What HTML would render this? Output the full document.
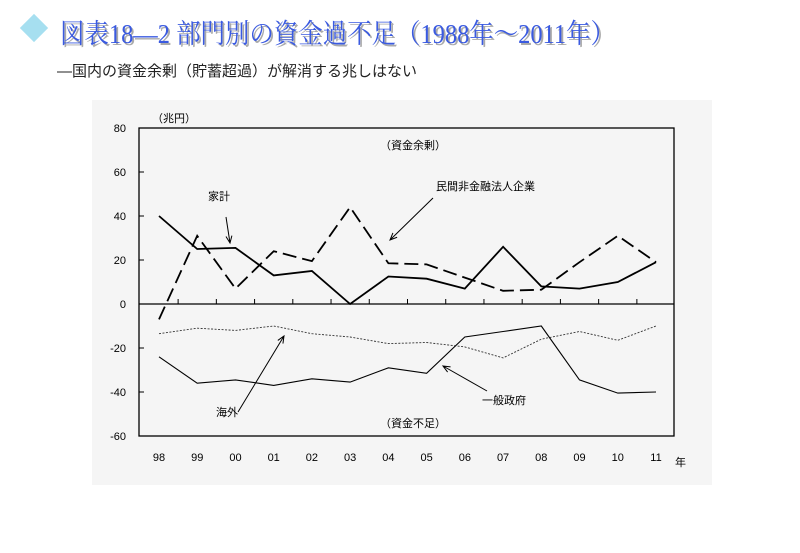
<!DOCTYPE html>
<html><head><meta charset="utf-8"><style>
body{margin:0;width:800px;height:553px;background:#fff;overflow:hidden;font-family:"Liberation Sans","Noto Sans CJK JP",sans-serif}
#title{position:absolute;left:60px;top:12px;font-family:"Liberation Serif","Noto Serif CJK SC",serif;font-size:27px;color:#3a5ae0;text-shadow:2px 2px 0 #aaa;white-space:nowrap;transform:scaleX(0.905);transform-origin:0 0}
#dia{position:absolute;left:24px;top:18px;width:20px;height:20px;background:#a6dff0;transform:rotate(45deg)}
#sub{position:absolute;left:57px;top:60px;font-size:15px;color:#222;white-space:nowrap}
</style></head><body>
<div id="dia"></div>
<div id="title">図表18—2 部門別の資金過不足（1988年～2011年）</div>
<div id="sub">—国内の資金余剰（貯蓄超過）が解消する兆しはない</div>
<svg id="chart" width="800" height="553" style="position:absolute;left:0;top:0"></svg>
<script>
const categories=["98","99","00","01","02","03","04","05","06","07","08","09","10","11"];
const household=[40,25,25.5,13,15,0,12.5,11.5,7,26,8,7,10,19];
const corporate=[-7,31,7,24,19.5,44,18.5,18,12,6,6.5,19,31,19];
const overseas=[-13.5,-11,-12,-10,-13.5,-15,-18,-17.5,-19.5,-24.5,-16,-12.5,-16.5,-10];
const government=[-24,-36,-34.5,-37,-34,-35.5,-29,-31.5,-15,-12.5,-10,-34.5,-40.5,-40];
const yTicks=[80,60,40,20,0,-20,-40,-60];
const NS="http://www.w3.org/2000/svg";
const svg=document.getElementById('chart');
const L=139,R=674,T=128,B=436;
const y=v=>304-(v*2.2);
const x=i=>159+i*38.23;
function mk(tag,a,txt){const e=document.createElementNS(NS,tag);for(const k in a)e.setAttribute(k,a[k]);if(txt!=null)e.textContent=txt;svg.appendChild(e);return e;}
let e=mk('rect',{x:92,y:100,width:620,height:385,fill:'#f5f5f5'});


e=mk('rect',{x:L,y:T,width:R-L,height:B-T,fill:'none',stroke:'#000','stroke-width':1.3});


e=mk('line',{x1:L,x2:R,y1:y(0),y2:y(0),stroke:'#000','stroke-width':1.3});


yTicks.forEach(v=>{
 e=mk('line',{x1:L,x2:L+5,y1:y(v),y2:y(v),stroke:'#000'});
 
 
 e=mk('text',{x:L-13,y:y(v)+4,'text-anchor':'end','font-size':11,fill:'#000'},String(v));
 
 
});
categories.forEach((c,i)=>{
 if(i>0){const xx=(x(i-1)+x(i))/2;e=mk('line',{x1:xx,x2:xx,y1:y(0),y2:y(0)-5,stroke:'#000'});
 
 }
 e=mk('text',{x:x(i),y:461,'text-anchor':'middle','font-size':11},c);
 
 
});
function line(d,name,st){const p=d.map((v,i)=>(i?'L':'M')+x(i).toFixed(1)+' '+y(v).toFixed(1)).join(' ');
 const el=mk('path',Object.assign({d:p,fill:'none',stroke:'#000'},st));
 
 }
line(household,'household-line',{'stroke-width':1.8});
line(corporate,'corporate-line',{'stroke-width':1.8,'stroke-dasharray':'14 6'});
line(overseas,'overseas-line',{'stroke-width':0.9,'stroke-dasharray':'2 1.5',stroke:'#333'});
line(government,'government-line',{'stroke-width':1.1});
const labels=[["（兆円）",152,122,'y-axis-unit'],["（資金余剰）",380,149,'surplus-label'],["（資金不足）",380,427,'deficit-label'],["家計",208,200,'household-label'],["民間非金融法人企業",436,190,'corporate-label'],["海外",216,416,'overseas-label'],["一般政府",482,404,'government-label'],["年",675,466,'x-axis-unit']];
labels.forEach(l=>{e=mk('text',{x:l[1],y:l[2],'font-size':11},l[0]);
 
 });
const arrows=[[226,217,230,243],[433,198,390,240],[238,412,284,336],[487,391,443,366]];
arrows.forEach(a=>{const dx=a[2]-a[0],dy=a[3]-a[1],len=Math.hypot(dx,dy),ux=dx/len,uy=dy/len;
 e=mk('path',{d:`M${a[0]} ${a[1]} L${a[2]} ${a[3]} M${a[2]-7*ux+3*uy} ${a[3]-7*uy-3*ux} L${a[2]} ${a[3]} L${a[2]-7*ux-3*uy} ${a[3]-7*uy+3*ux}`,stroke:'#000',fill:'none','stroke-width':1});
 
 });
</script>
</body></html>
